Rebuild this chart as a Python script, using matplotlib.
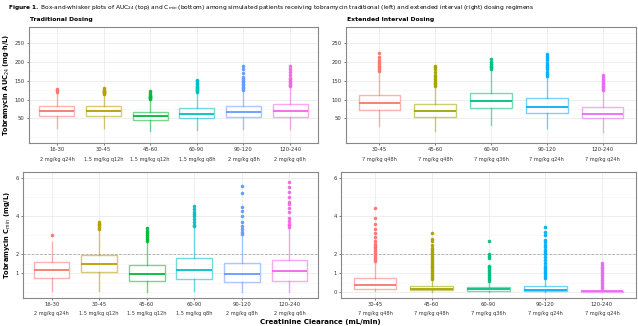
import matplotlib.pyplot as plt
from matplotlib.transforms import blended_transform_factory

# traditional dosing (left)
trad_crcl = ["16-30", "30-45", "45-60", "60-90", "90-120", "120-240"]
trad_dose = ["2 mg/kg q24h", "1.5 mg/kg q12h", "1.5 mg/kg q12h",
             "1.5 mg/kg q8h", "2 mg/kg q8h", "2 mg/kg q6h"]
trad_colors = ["#F8766D", "#B79F00", "#00BA38", "#00BFC4", "#619CFF", "#F564E3"]

# AUC24: whislo, q1, med, q3, whishi
trad_auc = [
    [25, 57, 71, 82, 118],
    [24, 57, 69, 82, 113],
    [18, 45, 56, 68, 100],
    [20, 50, 63, 77, 117],
    [22, 53, 66, 82, 124],
    [22, 55, 71, 89, 134],
]
trad_auc_out = [
    [120, 124, 129],
    [115, 117, 119, 121, 123, 126, 130],
    [102, 104, 106, 108, 110, 113, 118, 122],
    [119, 122, 125, 128, 131, 134, 137, 140, 144, 148, 152],
    [126, 130, 134, 138, 142, 147, 150, 154, 160, 170, 180, 188],
    [136, 139, 142, 146, 150, 154, 158, 165, 172, 180, 188],
]
trad_cmin = [
    [0.05, 0.77, 1.19, 1.60, 2.63],
    [0.08, 1.04, 1.48, 1.96, 3.20],
    [0.00, 0.60, 0.95, 1.41, 2.60],
    [0.05, 0.70, 1.19, 1.78, 3.35],
    [0.00, 0.54, 0.98, 1.55, 3.00],
    [0.00, 0.61, 1.09, 1.71, 3.35],
]
trad_cmin_out = [
    [3.0],
    [3.3, 3.4, 3.5, 3.6, 3.7],
    [2.7, 2.8, 2.9, 3.0, 3.1, 3.2, 3.35],
    [3.45, 3.55, 3.7, 3.85, 4.0, 4.1, 4.2, 4.35, 4.5],
    [3.05, 3.15, 3.3, 3.45, 3.7, 4.0, 4.25, 4.45, 5.2, 5.55],
    [3.4, 3.5, 3.6, 3.75, 3.9, 4.2, 4.4, 4.6, 4.75, 5.0, 5.25, 5.5, 5.8],
]

# extended interval dosing (right)
ext_crcl = ["30-45", "45-60", "60-90", "90-120", "120-240"]
ext_dose = ["7 mg/kg q48h", "7 mg/kg q48h", "7 mg/kg q36h",
            "7 mg/kg q24h", "7 mg/kg q24h"]
ext_colors = ["#F8766D", "#A3A500", "#00BF7D", "#00B0F6", "#E76BF3"]

ext_auc = [
    [31, 72, 91, 113, 173],
    [18, 55, 70, 87, 133],
    [32, 77, 97, 118, 178],
    [25, 64, 81, 103, 160],
    [13, 50, 63, 79, 122],
]
ext_auc_out = [
    [175, 180, 185, 190, 195, 200, 205, 212, 222],
    [135, 140, 145, 150, 155, 160, 165, 172, 180, 186, 190],
    [180, 185, 190, 195, 200, 206],
    [162, 168, 174, 180, 186, 192, 198, 204, 210, 216, 220],
    [124, 128, 132, 136, 140, 145, 150, 155, 160, 165],
]
ext_cmin = [
    [0.05, 0.18, 0.37, 0.74, 1.60],
    [0.00, 0.10, 0.19, 0.32, 0.65],
    [0.00, 0.07, 0.16, 0.26, 0.55],
    [0.00, 0.07, 0.12, 0.33, 0.70],
    [0.00, 0.02, 0.05, 0.09, 0.20],
]
ext_cmin_out = [
    [1.65, 1.75, 1.85, 1.95, 2.05, 2.15, 2.25, 2.35, 2.45, 2.55, 2.7, 2.9, 3.1, 3.3, 3.6, 3.9, 4.4],
    [0.7, 0.8, 0.9, 1.0, 1.1, 1.2, 1.3, 1.4, 1.5, 1.6, 1.7, 1.8, 1.9, 2.0, 2.1, 2.2, 2.3, 2.5, 2.7, 2.8, 3.1],
    [0.6, 0.7, 0.8, 0.9, 1.0, 1.1, 1.2, 1.3, 1.4, 1.8, 1.9, 2.0, 2.7],
    [0.75, 0.85, 0.95, 1.05, 1.15, 1.25, 1.4, 1.55, 1.7, 1.85, 2.0, 2.1, 2.2, 2.35, 2.5, 2.65, 2.75, 3.0, 3.15, 3.4],
    [0.25, 0.35, 0.45, 0.55, 0.65, 0.75, 0.85, 0.95, 1.05, 1.15, 1.25, 1.35, 1.45, 1.55],
]


def make_stats(rows, outs):
    stats = []
    for r, o in zip(rows, outs):
        stats.append(dict(whislo=r[0], q1=r[1], med=r[2], q3=r[3], whishi=r[4], fliers=o))
    return stats


def draw_panel(ax, rows, outs, colors, crcl, dose, ylim, yticks, minor, dose_y, cutoff=None):
    stats = make_stats(rows, outs)
    pos = list(range(1, len(rows) + 1))
    for i, s in enumerate(stats):
        c = colors[i]
        ax.bxp([s], positions=[pos[i]], widths=0.75, patch_artist=True,
               boxprops=dict(facecolor="white", edgecolor=c, linewidth=1.0, alpha=0.55),
               whiskerprops=dict(color=c, linewidth=1.0, alpha=0.55),
               capprops=dict(linewidth=0),
               medianprops=dict(color=c, linewidth=1.3),
               flierprops=dict(marker="o", markersize=1.6, markerfacecolor=c,
                               markeredgecolor=c, alpha=0.9),
               zorder=3)
    if cutoff is not None:
        ax.axhline(cutoff, color="#aaaaaa", linestyle=(0, (3, 2)), linewidth=0.6, zorder=2)
    ax.set_xlim(0.4, len(rows) + 0.6)
    ax.set_ylim(*ylim)
    ax.set_yticks(yticks)
    ax.set_yticks(minor, minor=True)
    ax.set_xticks(pos)
    ax.set_xticklabels(crcl)
    ax.tick_params(axis="both", labelsize=3.8, length=1.5, width=0.5, pad=1.5,
                   colors="#444444", labelcolor="#333333")
    ax.tick_params(axis="y", which="minor", length=0)
    ax.grid(True, which="major", color="#ebebeb", linewidth=0.6, zorder=0)
    ax.grid(True, which="minor", axis="y", color="#f3f3f3", linewidth=0.4, zorder=0)
    ax.set_axisbelow(True)
    for sp in ax.spines.values():
        sp.set_color("#888888")
        sp.set_linewidth(0.8)
    tr = blended_transform_factory(ax.transData, ax.transAxes)
    for p, d in zip(pos, dose):
        ax.text(p, dose_y, d, transform=tr, ha="center", va="center", fontsize=3.6, color="#333333")


fig = plt.figure(figsize=(6.38, 3.26), dpi=100)

ax1 = fig.add_axes([29 / 638, 1 - 143 / 326, 289 / 638, 116 / 326])
ax2 = fig.add_axes([346 / 638, 1 - 143 / 326, 290 / 638, 116 / 326])
ax3 = fig.add_axes([23 / 638, 1 - 298 / 326, 295 / 638, 126 / 326])
ax4 = fig.add_axes([341 / 638, 1 - 298 / 326, 295 / 638, 126 / 326])

draw_panel(ax1, trad_auc, trad_auc_out, trad_colors, trad_crcl, trad_dose,
           (-15, 292), [50, 100, 150, 200, 250], [0, 75, 125, 175, 225, 275], -17 / 116)
draw_panel(ax2, ext_auc, ext_auc_out, ext_colors, ext_crcl, ext_dose,
           (-15, 292), [50, 100, 150, 200, 250], [0, 75, 125, 175, 225, 275], -17 / 116)
draw_panel(ax3, trad_cmin, trad_cmin_out, trad_colors, trad_crcl, trad_dose,
           (-0.3, 6.3), [1, 2, 4, 6], [0, 0.5, 1.5, 3, 5], -15 / 126, cutoff=2)
draw_panel(ax4, ext_cmin, ext_cmin_out, ext_colors, ext_crcl, ext_dose,
           (-0.3, 6.3), [0, 1, 2, 4, 6], [0.5, 1.5, 3, 5], -15 / 126, cutoff=2)

ax1.set_ylabel("Tobramycin AUC$_{24}$ (mg$\\cdot$h/L)", fontsize=4.8, fontweight="bold", labelpad=2)
ax3.set_ylabel("Tobramycin C$_{min}$ (mg/L)", fontsize=4.8, fontweight="bold", labelpad=2)

fig.text(8 / 638, 1 - 8 / 326, "$\\bf{Figure\\ 1.}$ Box-and-whisker plots of AUC$_{24}$ (top) and C$_{min}$ (bottom) "
         "among simulated patients receiving tobramycin traditional (left) and extended interval (right) dosing regimens",
         fontsize=4.2, va="center", ha="left")
fig.text(30 / 638, 1 - 20 / 326, "Traditional Dosing", fontsize=4.4, fontweight="bold", va="center")
fig.text(347 / 638, 1 - 20 / 326, "Extended Interval Dosing", fontsize=4.4, fontweight="bold", va="center")
fig.text(320 / 638, 1 - 322 / 326, "Creatinine Clearance (mL/min)", fontsize=5.0, fontweight="bold",
         ha="center", va="center")

fig.savefig("out.png", dpi=100)
